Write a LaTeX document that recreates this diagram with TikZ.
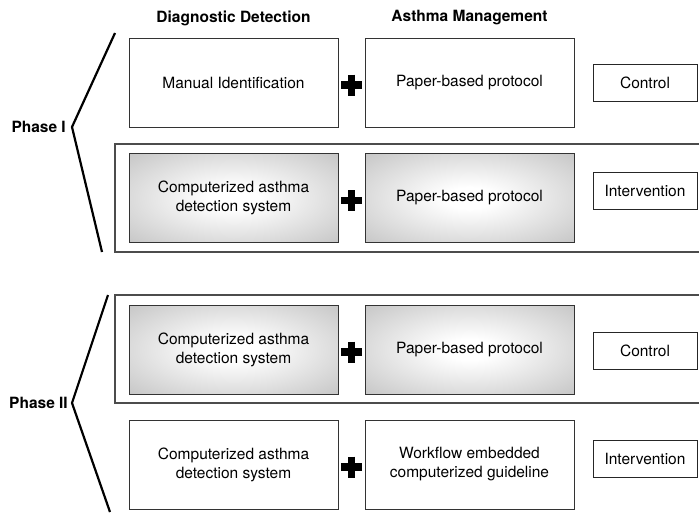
\documentclass[tikz,border=0pt]{standalone}
\usepackage{fontspec}
\setmainfont{TeX Gyre Heros}
\usetikzlibrary{calc}
\pgfdeclareradialshading{boxglow}{\pgfpoint{0bp}{0bp}}{color(0bp)=(white); color(6bp)=(white); color(50bp)=(black!33)}

\begin{document}
\begin{tikzpicture}[x=1pt,y=-1pt,
  every node/.style={font=\fontsize{15.5}{19}\selectfont},
  box/.style={draw=black!80,line width=1pt,minimum width=209pt,minimum height=89pt,align=center,inner sep=0pt},
  glow/.style={box,shading=boxglow},
  tag/.style={draw=black!85,line width=1pt,minimum width=104pt,minimum height=37pt,inner sep=0pt},
  head/.style={font=\fontsize{15.5}{19}\selectfont\bfseries},
  frame/.style={line width=1.4pt,black!70},
  brace/.style={line width=2.2pt}]
\useasboundingbox (0,0) rectangle (699,514);

 \node[head] (hd) at (233.5,18) {Diagnostic Detection};
 \node[head] (hm) at (469.5,18) {Asthma Management};

 % phase I
 \draw[frame] (699,144) -| (115,252) -- (699,252);
 \node[box] (d1) at (233.5,82.5) {Manual Identification};
 \node[box] (m1) at (469.5,82.5) {Paper-based protocol};
 \node[tag] (c1) at (645,82.5) {Control};
 \node[glow] (d2) at (233.5,198) {Computerized asthma\\detection system};
 \node[glow] (m2) at (469.5,198) {Paper-based protocol};
 \node[tag] (c2) at (645,190.5) {Intervention};

 % phase II
 \draw[frame] (699,295) -| (115,403) -- (699,403);
 \node[glow] (d3) at (233.5,349.5) {Computerized asthma\\detection system};
 \node[glow] (m3) at (469.5,349.5) {Paper-based protocol};
 \node[tag] (c3) at (645,350.5) {Control};
 \node[box] (d4) at (233.5,464.5) {Computerized asthma\\detection system};
 \node[box] (m4) at (469.5,464.5) {Workflow embedded\\computerized guideline};
 \node[tag] (c4) at (645,459) {Intervention};

 \foreach \p in {1,...,4}
  \draw[line width=7.5pt] ($(d\p.east)!.5!(m\p.west)+(-10.5,2.5)$) -- ++(21,0)
        ($(d\p.east)!.5!(m\p.west)+(0,-8)$) -- ++(0,21);

 % brackets
 \node[head,anchor=east,inner sep=0pt] (ph1) at (66,127) {Phase I};
 \coordinate (t1) at (115,33); \coordinate (v1) at (72,127); \coordinate (b1) at (102,252);
 \draw[brace] (t1) -- (v1) -- (b1);
 \node[head,anchor=east,inner sep=0pt] (ph2) at (68,403) {Phase II};
 \coordinate (t2) at (108,295); \coordinate (v2) at (72,403); \coordinate (b2) at (110,512);
 \draw[brace] (t2) -- (v2) -- (b2);
\end{tikzpicture}
\end{document}
